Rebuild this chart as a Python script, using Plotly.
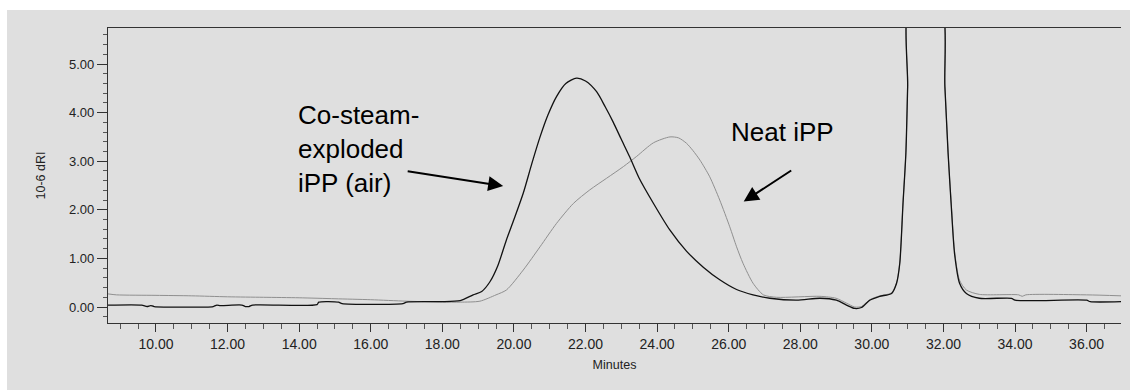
import plotly.graph_objects as go

# GPC traces: retention time (min) vs differential refractive index (10^-6 dRI)
steam_time = [8.66, 9.6, 9.75, 9.85, 9.95, 11.6, 11.7, 11.8, 12.4, 12.5, 12.6, 12.7,
              14.5, 14.55, 15.1, 15.2, 16.9, 17.0, 17.93, 18.5, 18.86, 19.1, 19.33,
              19.55, 19.79, 20.0, 20.26, 20.5, 20.73, 20.95, 21.19, 21.45, 21.75,
              22.0, 22.31, 22.55, 22.77, 23.0, 23.24, 23.5, 23.9, 24.36, 24.82,
              25.29, 25.75, 26.22, 26.68, 27.15, 27.9, 28.55, 29.01, 29.29, 29.52,
              29.71, 29.94, 30.22, 30.55, 30.69, 30.78, 30.87, 30.95, 31.0, 31.06,
              31.92, 32.04, 32.13, 32.22, 32.31, 32.45, 32.64, 33.0, 33.9, 34.0,
              36.0, 36.1, 36.97]
steam_dri = [0.04, 0.04, 0.01, 0.03, 0.01, 0.01, 0.04, 0.03, 0.04, 0.01, 0.01, 0.04,
             0.05, 0.10, 0.10, 0.07, 0.07, 0.10, 0.11, 0.13, 0.25, 0.32, 0.52,
             0.85, 1.38, 1.80, 2.34, 2.95, 3.50, 3.95, 4.33, 4.60, 4.71,
             4.65, 4.43, 4.12, 3.81, 3.45, 3.08, 2.65, 2.13, 1.58, 1.15,
             0.82, 0.56, 0.36, 0.25, 0.18, 0.14, 0.18, 0.14, 0.04, -0.03,
             -0.01, 0.14, 0.22, 0.28, 0.49, 0.90, 2.13, 3.16, 4.53, 6.2,
             6.2, 4.53, 3.16, 2.06, 1.10, 0.49, 0.28, 0.18, 0.18, 0.14,
             0.14, 0.11, 0.11]

neat_time = [8.66, 8.9, 10.0, 11.0, 12.0, 13.0, 14.0, 15.0, 16.0, 17.0, 18.0, 18.5,
             19.05, 19.5, 19.79, 20.26, 20.73, 21.19, 21.66, 22.12, 22.59, 23.06,
             23.43, 23.9, 24.36, 24.6, 24.82, 25.0, 25.2, 25.47, 25.75, 26.03,
             26.22, 26.4, 26.68, 26.97, 27.34, 28.55, 29.0, 29.29, 29.52, 29.71,
             29.94, 30.22, 30.55, 30.69, 30.78, 30.87, 30.95, 31.0, 31.06, 31.92,
             32.04, 32.13, 32.22, 32.31, 32.45, 32.64, 33.0, 34.1, 34.2, 34.3,
             36.0, 36.97]
neat_dri = [0.27, 0.25, 0.24, 0.23, 0.21, 0.20, 0.19, 0.17, 0.15, 0.12, 0.10, 0.10,
            0.12, 0.25, 0.35, 0.76, 1.24, 1.72, 2.13, 2.41, 2.65, 2.89,
            3.10, 3.38, 3.50, 3.48, 3.37, 3.22, 3.02, 2.68, 2.20, 1.65,
            1.24, 0.90, 0.49, 0.25, 0.20, 0.22, 0.18, 0.08, 0.00, 0.01,
            0.15, 0.23, 0.29, 0.50, 0.92, 2.15, 3.18, 4.55, 6.2, 6.2,
            4.55, 3.18, 2.10, 1.15, 0.55, 0.35, 0.26, 0.25, 0.22, 0.25,
            0.25, 0.23]

x_ticks = [10, 12, 14, 16, 18, 20, 22, 24, 26, 28, 30, 32, 34, 36]
x_tick_text = ["10.00", "12.00", "14.00", "16.00", "18.00", "20.00", "22.00",
               "24.00", "26.00", "28.00", "30.00", "32.00", "34.00", "36.00"]
y_ticks = [0, 1, 2, 3, 4, 5]
y_tick_text = ["0.00", "1.00", "2.00", "3.00", "4.00", "5.00"]

FONT = "Liberation Sans, Arial, sans-serif"
BG = "#dfdfdf"

fig = go.Figure()
fig.add_trace(go.Scatter(x=neat_time, y=neat_dri, mode="lines",
                         line=dict(color="#8f8f8f", width=1, shape="spline",
                                   smoothing=0.7),
                         name="Neat iPP", showlegend=False))
fig.add_trace(go.Scatter(x=steam_time, y=steam_dri, mode="lines",
                         line=dict(color="#111111", width=1.3, shape="spline",
                                   smoothing=0.7),
                         name="Co-steam-exploded iPP (air)", showlegend=False))

# callout labels with arrows pointing at each trace
fig.add_annotation(x=19.70, y=2.49, xref="x", yref="y", text="",
                   showarrow=True, ax=-97, ay=-15, arrowhead=2, arrowsize=1.5,
                   arrowwidth=2, arrowcolor="#000000")
fig.add_annotation(x=26.42, y=2.17, xref="x", yref="y", text="",
                   showarrow=True, ax=49, ay=-32, arrowhead=2, arrowsize=1.5,
                   arrowwidth=2, arrowcolor="#000000")
fig.add_annotation(x=13.92, y=3.25, xref="x", yref="y",
                   text="Co-steam-<br>exploded<br>iPP (air)", showarrow=False,
                   xanchor="left", yanchor="middle", align="left",
                   font=dict(family=FONT, size=26, color="#000000"))
fig.add_annotation(x=26.02, y=3.6, xref="x", yref="y", text="Neat iPP",
                   showarrow=False, xanchor="left", yanchor="middle",
                   font=dict(family=FONT, size=26, color="#000000"))

# white page border around the grey panel (top and left edges)
fig.add_shape(type="rect", xref="paper", yref="paper", x0=-0.12, x1=1.02,
              y0=1.0610, y1=1.12, fillcolor="white", line=dict(width=0),
              layer="above")
fig.add_shape(type="rect", xref="paper", yref="paper", x0=-0.12, x1=-0.0997,
              y0=-0.3, y1=1.12, fillcolor="white", line=dict(width=0),
              layer="above")

fig.update_layout(
    width=1130, height=390,
    margin=dict(l=108, r=9, t=28, b=67),
    paper_bgcolor=BG, plot_bgcolor=BG,
    font=dict(family=FONT, size=12, color="#222222"),
    xaxis=dict(
        range=[8.66, 36.96], showgrid=False, zeroline=False,
        showline=True, linecolor="#333333", linewidth=1.3, mirror=True,
        tickmode="array", tickvals=x_ticks, ticktext=x_tick_text,
        ticks="outside", ticklen=8, tickwidth=1, tickcolor="#333333",
        tickfont=dict(family=FONT, size=14, color="#222222"),
        minor=dict(dtick=0.5, tick0=0, ticks="outside", ticklen=5,
                   tickwidth=1, tickcolor="#555555"),
        title=dict(text="Minutes", font=dict(family=FONT, size=12.5, color="#222222"),
                   standoff=9),
    ),
    yaxis=dict(
        range=[-0.329, 5.741], showgrid=False, zeroline=False,
        showline=True, linecolor="#333333", linewidth=1.3,
        tickmode="array", tickvals=y_ticks, ticktext=y_tick_text,
        ticks="outside", ticklen=10, tickwidth=1, tickcolor="#333333",
        tickfont=dict(family=FONT, size=13, color="#222222"),
        minor=dict(dtick=0.2, tick0=0, ticks="outside", ticklen=4,
                   tickwidth=1, tickcolor="#555555"),
        title=dict(text="10-6 dRI", font=dict(family=FONT, size=12.5, color="#222222"),
                   standoff=20),
    ),
)

fig.write_html("out.html")
